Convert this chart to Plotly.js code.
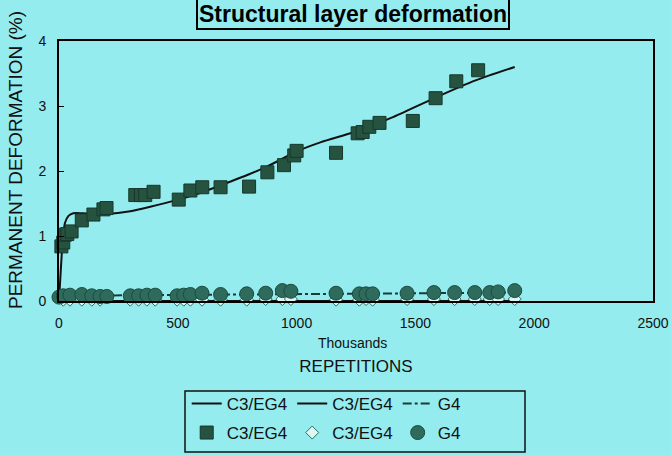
<!DOCTYPE html>
<html>
<head>
<meta charset="utf-8">
<script src="https://cdn.plot.ly/plotly-3.0.1.min.js"></script>
<style>
html,body{margin:0;padding:0;background:#94ecef;}
#chart{width:671px;height:455px;}
</style>
</head>
<body>
<div id="chart"></div>
<script>
// --- Data (thousands of repetitions, permanent deformation %) ---
const sqX = [10, 18, 25, 35, 53, 96, 145, 187, 200, 321, 345, 363, 398, 504, 553, 603, 680, 800, 877, 947, 990, 1000, 1166, 1257, 1278, 1306, 1349, 1489, 1585, 1672, 1764];
const sqY = [0.84, 0.9, 1.02, 1.03, 1.07, 1.24, 1.33, 1.41, 1.43, 1.63, 1.63, 1.63, 1.68, 1.56, 1.70, 1.75, 1.75, 1.76, 1.98, 2.09, 2.24, 2.31, 2.28, 2.58, 2.60, 2.68, 2.74, 2.77, 3.12, 3.38, 3.55];

const fitX = [0, 8, 15, 25, 40, 60, 100, 200, 300, 384, 500, 600, 680, 800, 877, 1000, 1100, 1271, 1400, 1585, 1750, 1918];
const fitY = [0, 0.5, 0.9, 1.2, 1.31, 1.35, 1.35, 1.34, 1.38, 1.45, 1.56, 1.67, 1.78, 1.95, 2.07, 2.3, 2.44, 2.63, 2.82, 3.13, 3.39, 3.6];

const g4X = [0, 18, 46, 96, 138, 173, 201, 300, 335, 370, 405, 497, 525, 553, 602, 680, 790, 870, 940, 976, 1166, 1264, 1292, 1320, 1465, 1578, 1665, 1750, 1813, 1848, 1918];
const g4Y = [0.06, 0.08, 0.09, 0.1, 0.08, 0.07, 0.07, 0.08, 0.08, 0.09, 0.09, 0.08, 0.09, 0.1, 0.12, 0.1, 0.11, 0.12, 0.16, 0.15, 0.12, 0.11, 0.11, 0.11, 0.12, 0.13, 0.13, 0.13, 0.13, 0.14, 0.16];

const dmX = [18, 46, 96, 138, 173, 300, 335, 370, 405, 497, 525, 553, 602, 680, 790, 870, 940, 976, 1166, 1264, 1292, 1320, 1465, 1578, 1665, 1750, 1813, 1848, 1918];
const dmY = [0.02, 0.02, 0.02, 0.02, 0.02, 0.02, 0.02, 0.02, 0.02, 0.02, 0.02, 0.02, 0.02, 0.02, 0.02, 0.03, 0.03, 0.03, 0.02, 0.02, 0.03, 0.02, 0.03, 0.03, 0.03, 0.03, 0.03, 0.03, 0.03];

const dmFitX = [0, 1918];
const dmFitY = [0, 0];

const g4FitX = [0, 1918];
const g4FitY = [0.08, 0.13];

const xTicks = [0, 500, 1000, 1500, 2000, 2500];
const yTicks = [0, 1, 2, 3, 4];

const BG = '#94ecef';
const FONT = 'Liberation Sans, Arial, sans-serif';

const traces = [
  {x: fitX, y: fitY, mode: 'lines', name: 'C3/EG4', line: {color: '#111', width: 2, shape: 'spline', smoothing: 0.6}, legend: 'legend', cliponaxis: false},
  {x: dmFitX, y: dmFitY, mode: 'lines', name: 'C3/EG4', line: {color: '#111', width: 2}, legend: 'legend', cliponaxis: false},
  {x: g4FitX, y: g4FitY, mode: 'lines', name: 'G4', line: {color: '#1a3a33', width: 2, dash: 'dashdot'}, legend: 'legend', cliponaxis: false},
  {x: sqX, y: sqY, mode: 'markers', name: 'C3/EG4', marker: {symbol: 'square', size: 13, color: '#26533f', line: {color: '#16382c', width: 1}}, legend: 'legend2', cliponaxis: false},
  {x: dmX, y: dmY, mode: 'markers', name: 'C3/EG4', marker: {symbol: 'diamond', size: 10, color: '#dff7f4', line: {color: '#2a6e60', width: 1}}, legend: 'legend2', cliponaxis: false},
  {x: g4X, y: g4Y, mode: 'markers', name: 'G4', marker: {symbol: 'circle', size: 14, color: '#2f6b5c', line: {color: '#1d4a3f', width: 1}}, legend: 'legend2', cliponaxis: false}
];

const layout = {
  width: 671, height: 455,
  paper_bgcolor: BG, plot_bgcolor: BG,
  margin: {l: 59, r: 18, t: 41, b: 154, autoexpand: false},
  font: {family: FONT, color: '#111'},
  showlegend: true,
  xaxis: {
    range: [0, 2500], tickvals: xTicks, ticktext: xTicks.map(String),
    showline: true, linecolor: '#000', linewidth: 2, mirror: true,
    showgrid: false, zeroline: false, ticks: '', ticklabelstandoff: 8,
    tickfont: {size: 14, family: FONT, color: '#111'},
    title: {text: 'REPETITIONS', font: {size: 17, family: FONT, color: '#111'}, standoff: 30}
  },
  yaxis: {
    range: [0, 4], tickvals: yTicks, ticktext: yTicks.map(String),
    showline: true, linecolor: '#000', linewidth: 2, mirror: true,
    showgrid: false, zeroline: false, ticks: 'inside', ticklen: 5, tickcolor: '#000', tickwidth: 1,
    ticklabelstandoff: 8,
    tickfont: {size: 14, family: FONT, color: '#111'}
  },
  legend: {
    orientation: 'h', x: 0.215, y: (301 - 404) / 260, xanchor: 'left', yanchor: 'middle', xref: 'paper', yref: 'paper',
    bgcolor: 'rgba(0,0,0,0)', font: {size: 17, family: FONT, color: '#111'}, itemwidth: 30
  },
  legend2: {
    orientation: 'h', x: 0.215, y: (301 - 433) / 260, xanchor: 'left', yanchor: 'middle', xref: 'paper', yref: 'paper',
    bgcolor: 'rgba(0,0,0,0)', font: {size: 17, family: FONT, color: '#111'}, itemwidth: 30
  },
  shapes: [
    {type: 'rect', xref: 'paper', yref: 'paper', x0: (185 - 59) / 594, x1: (525 - 59) / 594, y0: (301 - 452) / 260, y1: (301 - 391) / 260, line: {color: '#111', width: 1.5}}
  ],
  annotations: [
    {text: 'Structural layer deformation', xref: 'paper', yref: 'paper', x: (353 - 59) / 594, y: (301 - 14) / 260,
     xanchor: 'center', yanchor: 'middle', showarrow: false, font: {size: 23, family: FONT, color: '#000', weight: 'bold'},
     bordercolor: '#000', borderwidth: 2, borderpad: 1, bgcolor: BG},
    {text: 'Thousands', xref: 'paper', yref: 'paper', x: (352 - 59) / 594, y: (301 - 343) / 260,
     xanchor: 'center', yanchor: 'middle', showarrow: false, font: {size: 14, family: FONT, color: '#111'}},
    {text: 'PERMANENT DEFORMATION (%)', xref: 'paper', yref: 'paper', x: (15 - 59) / 594, y: (301 - 160) / 260,
     xanchor: 'center', yanchor: 'middle', textangle: -90, showarrow: false, font: {size: 19, family: FONT, color: '#111'}}
  ]
};

Plotly.newPlot('chart', traces, layout, {displayModeBar: false, staticPlot: true});
</script>
</body>
</html>
